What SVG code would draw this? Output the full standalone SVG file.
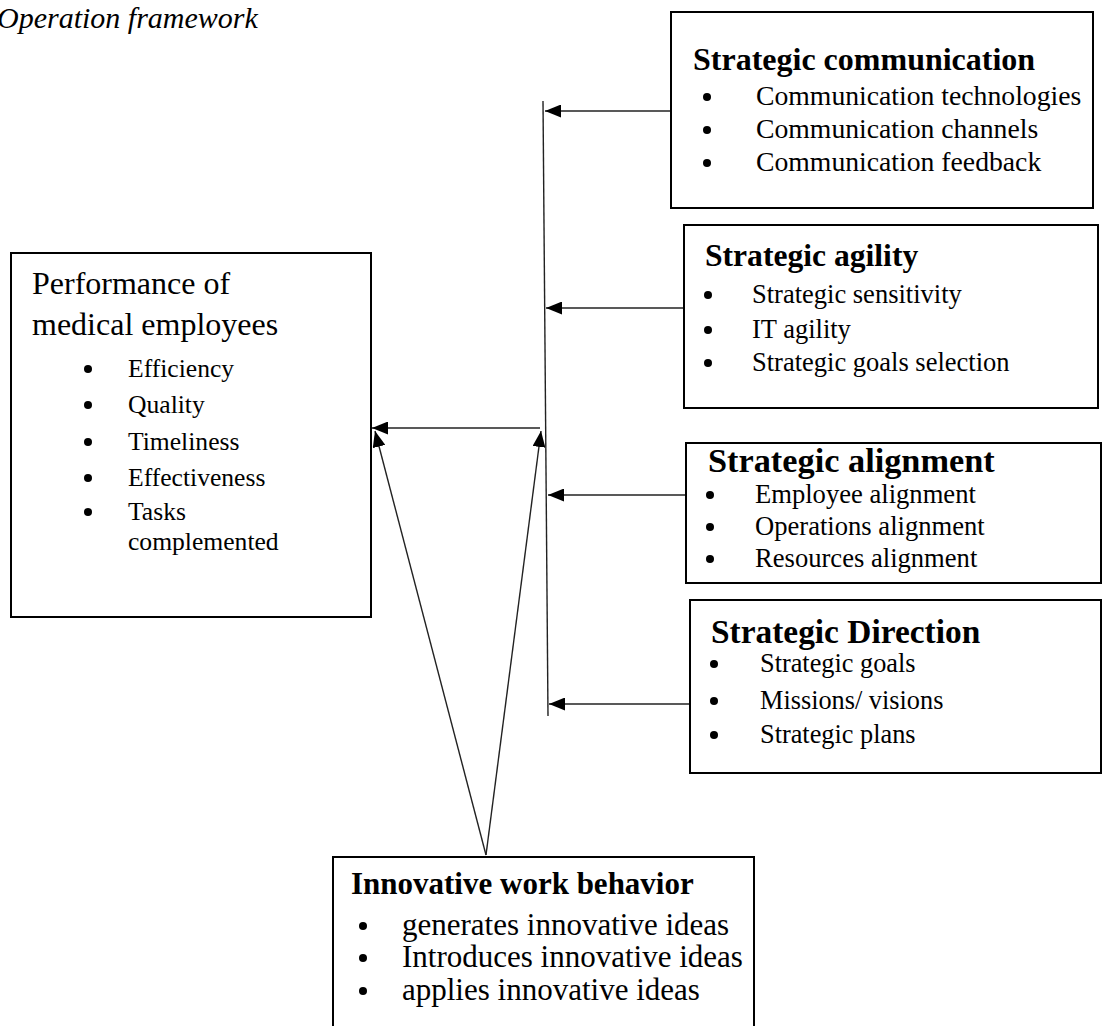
<svg xmlns="http://www.w3.org/2000/svg" width="1102" height="1026" viewBox="0 0 1102 1026">
  <style>
    .box { fill: #ffffff; stroke: #000000; stroke-width: 2; }
    .t { font-family: "Liberation Serif", "Times New Roman", serif; fill: #000000; }
    .head { font-weight: bold; }
    .dot { fill: #000000; }
    .link { fill: none; stroke: #222222; stroke-width: 1.4; }
  </style>
  <defs>
    <marker id="arrow" markerUnits="userSpaceOnUse" markerWidth="17" markerHeight="13" refX="16" refY="6.5" orient="auto">
      <path d="M0,0 L16,6.5 L0,13 z" fill="#000000"/>
    </marker>
  </defs>

  <rect width="1102" height="1026" fill="#ffffff"/>

  <text class="t" x="-3" y="28" font-size="30" font-style="italic">Operation framework</text>

  <!-- connectors -->
  <g id="connectors">
    <line class="link" x1="543" y1="101" x2="548" y2="716"/>
    <line class="link" x1="671" y1="111" x2="545" y2="111" marker-end="url(#arrow)"/>
    <line class="link" x1="684" y1="308" x2="546" y2="308" marker-end="url(#arrow)"/>
    <line class="link" x1="686" y1="495" x2="548" y2="495" marker-end="url(#arrow)"/>
    <line class="link" x1="699" y1="704" x2="549" y2="704" marker-end="url(#arrow)"/>
    <line class="link" x1="540" y1="428" x2="372" y2="428" marker-end="url(#arrow)"/>
    <line class="link" x1="486" y1="855" x2="375" y2="431" marker-end="url(#arrow)"/>
    <line class="link" x1="486" y1="855" x2="541" y2="431" marker-end="url(#arrow)"/>
  </g>

  <!-- Strategic communication -->
  <g id="strategic-communication">
    <rect class="box" x="671" y="12" width="422" height="196"/>
    <text class="t head" x="693" y="70" font-size="32">Strategic communication</text>
    <circle class="dot" cx="707" cy="97" r="4"/>
    <circle class="dot" cx="707" cy="130" r="4"/>
    <circle class="dot" cx="707" cy="163" r="4"/>
    <text class="t" x="756" y="105" font-size="27.7">Communication technologies</text>
    <text class="t" x="756" y="138" font-size="27.7">Communication channels</text>
    <text class="t" x="756" y="171" font-size="27.7">Communication feedback</text>
  </g>

  <!-- Strategic agility -->
  <g id="strategic-agility">
    <rect class="box" x="684" y="225" width="414" height="183"/>
    <text class="t head" x="705" y="266" font-size="31.6">Strategic agility</text>
    <circle class="dot" cx="708" cy="295" r="4"/>
    <circle class="dot" cx="708" cy="330" r="4"/>
    <circle class="dot" cx="708" cy="363" r="4"/>
    <text class="t" x="752" y="303" font-size="26.5">Strategic sensitivity</text>
    <text class="t" x="752" y="338" font-size="26.5">IT agility</text>
    <text class="t" x="752" y="371" font-size="26.5">Strategic goals selection</text>
  </g>

  <!-- Strategic alignment -->
  <g id="strategic-alignment">
    <rect class="box" x="686" y="443" width="415" height="140"/>
    <text class="t head" x="708" y="472" font-size="34.3">Strategic alignment</text>
    <circle class="dot" cx="710" cy="495" r="4"/>
    <circle class="dot" cx="710" cy="527" r="4"/>
    <circle class="dot" cx="710" cy="559" r="4"/>
    <text class="t" x="755" y="503" font-size="26.6">Employee alignment</text>
    <text class="t" x="755" y="535" font-size="26.6">Operations alignment</text>
    <text class="t" x="755" y="567" font-size="26.6">Resources alignment</text>
  </g>

  <!-- Strategic Direction -->
  <g id="strategic-direction">
    <rect class="box" x="690" y="600" width="411" height="173"/>
    <text class="t head" x="711" y="643" font-size="33.4">Strategic Direction</text>
    <circle class="dot" cx="714" cy="664" r="4"/>
    <circle class="dot" cx="714" cy="701" r="4"/>
    <circle class="dot" cx="714" cy="735" r="4"/>
    <text class="t" x="760" y="672" font-size="26.3">Strategic goals</text>
    <text class="t" x="760" y="709" font-size="26.3">Missions/ visions</text>
    <text class="t" x="760" y="743" font-size="26.3">Strategic plans</text>
  </g>

  <!-- Performance of medical employees -->
  <g id="performance">
    <rect class="box" x="11" y="253" width="360" height="364"/>
    <text class="t" x="32" y="294" font-size="32">Performance of</text>
    <text class="t" x="32" y="335" font-size="32">medical employees</text>
    <circle class="dot" cx="88" cy="369" r="4"/>
    <circle class="dot" cx="88" cy="405" r="4"/>
    <circle class="dot" cx="88" cy="442" r="4"/>
    <circle class="dot" cx="88" cy="478" r="4"/>
    <circle class="dot" cx="88" cy="512" r="4"/>
    <text class="t" x="128" y="377" font-size="25.6">Efficiency</text>
    <text class="t" x="128" y="413" font-size="25.6">Quality</text>
    <text class="t" x="128" y="450" font-size="25.6">Timeliness</text>
    <text class="t" x="128" y="486" font-size="25.6">Effectiveness</text>
    <text class="t" x="128" y="520" font-size="25.6">Tasks</text>
    <text class="t" x="128" y="550" font-size="25.6">complemented</text>
  </g>

  <!-- Innovative work behavior -->
  <g id="innovative-work-behavior">
    <rect class="box" x="333" y="857" width="421" height="190"/>
    <text class="t head" x="351" y="894" font-size="31">Innovative work behavior</text>
    <circle class="dot" cx="363" cy="926" r="4"/>
    <circle class="dot" cx="363" cy="958" r="4"/>
    <circle class="dot" cx="363" cy="991" r="4"/>
    <text class="t" x="402" y="935" font-size="31">generates innovative ideas</text>
    <text class="t" x="402" y="967" font-size="31">Introduces innovative ideas</text>
    <text class="t" x="402" y="1000" font-size="31">applies innovative ideas</text>
  </g>
</svg>
